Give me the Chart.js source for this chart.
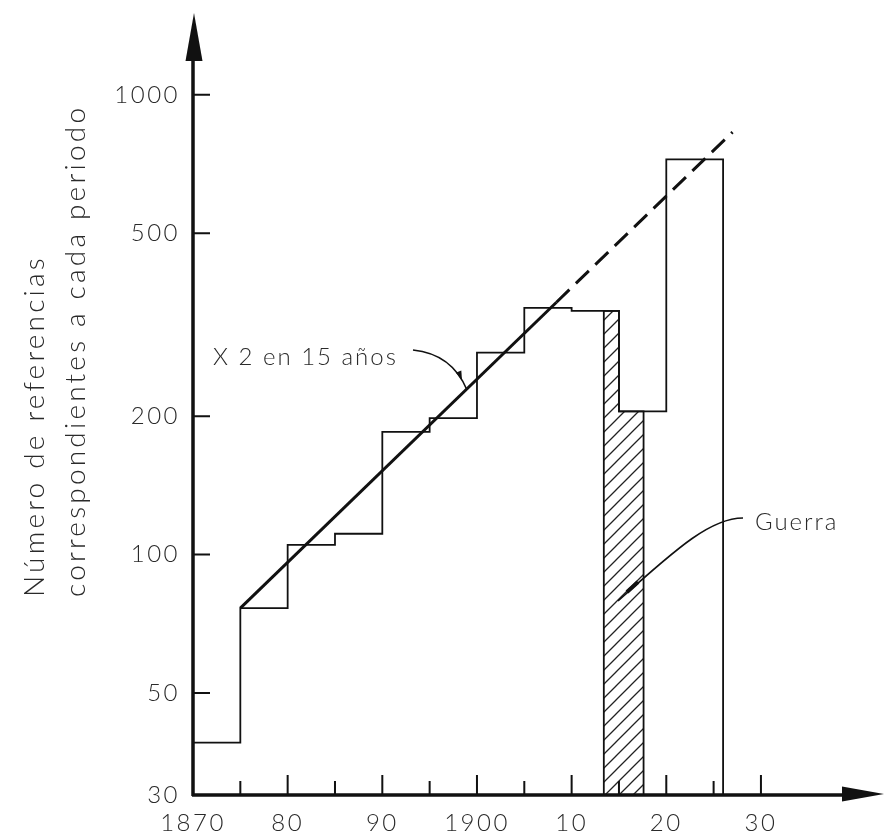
<!DOCTYPE html>
<html>
<head>
<meta charset="utf-8">
<script src="https://cdn.jsdelivr.net/npm/chart.js@4.4.1/dist/chart.umd.min.js"></script>
<style>
  html, body { margin: 0; padding: 0; background: #fff; }
  #wrap { width: 884px; height: 832px; position: relative; }
</style>
</head>
<body>
<div id="wrap"><canvas id="refChart"></canvas></div>
<script>
// histogram: left edge of each period and the count for it
const binEdges = [1870, 1875, 1880, 1885, 1890, 1895, 1900, 1905, 1910, 1915, 1920, 1926];
const binValues = [39, 76.5, 105, 111, 185, 198, 275, 344, 339, 205, 724];
// war years (hatched)
const warYears = [1913.4, 1913.4, 1915, 1917.6, 1917.6];
const warValues = [30, 339, 205, 205, 30];
// trend line, solid then dashed
const trendYears = [1875, 1908.4, 1927];
const trendValues = [76.5, 354, 830];

const yTicks = [30, 50, 100, 200, 500, 1000];
const xTickYears = [1870, 1880, 1890, 1900, 1910, 1920, 1930];
const xTickLabels = ["1870", "80", "90", "1900", "10", "20", "30"];
const xMinorYears = [1875, 1885, 1895, 1905, 1915, 1925];
const yTitleLines = ["Número de referencias", "correspondientes a cada periodo"];

const FONT = "Lato, 'Open Sans', sans-serif";
const TEXT = "#2a2a2a";

function hatchPattern() {
    const c = document.createElement("canvas");
    c.width = 14; c.height = 14;
    const g = c.getContext("2d");
    g.strokeStyle = "#222";
    g.lineWidth = 1.3;
    g.beginPath();
    g.moveTo(0, 14); g.lineTo(14, 0);
    g.moveTo(-2, 2); g.lineTo(2, -2);
    g.moveTo(12, 16); g.lineTo(16, 12);
    g.stroke();
    return g.createPattern(c, "repeat");
}

const histPoints = binValues.map((v, i) => ({ x: binEdges[i], y: v }));
histPoints.push({ x: binEdges[binEdges.length - 1], y: yTicks[0] });

const warPoints = warYears.map((yr, i) => ({ x: yr, y: warValues[i] }));
const trendPoints = trendYears.map((yr, i) => ({ x: yr, y: trendValues[i] }));

function arrowHead(ctx, x, y, ang, len, half) {
    ctx.save();
    ctx.translate(x, y);
    ctx.rotate(ang);
    ctx.beginPath();
    ctx.moveTo(0, 0);
    ctx.lineTo(-len, -half);
    ctx.lineTo(-len, half);
    ctx.closePath();
    ctx.fill();
    ctx.restore();
}

const decorPlugin = {
    id: "decor",
    beforeDraw(chart) {
        chart.ctx.letterSpacing = "2.5px";
    },
    afterDatasetsDraw(chart) {
        const ctx = chart.ctx;
        const xs = chart.scales.x, ys = chart.scales.y;
        const x0 = xs.getPixelForValue(xTickYears[0]);
        const y0 = ys.getPixelForValue(yTicks[0]);
        ctx.save();
        ctx.strokeStyle = "#111";
        ctx.fillStyle = "#111";

        // axes
        ctx.lineWidth = 3.5;
        ctx.beginPath();
        ctx.moveTo(x0, y0 + 1);
        ctx.lineTo(x0, 55);
        ctx.moveTo(x0 - 1, y0);
        ctx.lineTo(850, y0);
        ctx.stroke();
        arrowHead(ctx, x0 + 1, 13, -Math.PI / 2, 48, 8.5);
        arrowHead(ctx, 884, y0 - 1, 0, 42, 7.5);

        // tick marks
        ctx.lineWidth = 2;
        ctx.beginPath();
        yTicks.slice(1).forEach(v => {
            const py = ys.getPixelForValue(v);
            ctx.moveTo(x0, py); ctx.lineTo(x0 + 17, py);
        });
        xTickYears.slice(1).forEach(v => {
            const px = xs.getPixelForValue(v);
            ctx.moveTo(px, y0); ctx.lineTo(px, y0 - 20);
        });
        xMinorYears.forEach(v => {
            const px = xs.getPixelForValue(v);
            ctx.moveTo(px, y0); ctx.lineTo(px, y0 - 14);
        });
        ctx.stroke();

        // notes
        ctx.lineWidth = 1.6;
        ctx.beginPath();
        ctx.moveTo(413, 350);
        ctx.quadraticCurveTo(452, 354, 467, 390);
        ctx.stroke();
        arrowHead(ctx, 462, 380, Math.atan2(390 - 354, 467 - 452), 9, 3);

        ctx.beginPath();
        ctx.moveTo(743, 518);
        ctx.bezierCurveTo(712, 518, 680, 545, 618, 601);
        ctx.stroke();
        ctx.lineWidth = 4;
        ctx.beginPath();
        ctx.moveTo(627, 592); ctx.lineTo(638, 582);
        ctx.stroke();

        ctx.fillStyle = TEXT;
        ctx.font = "300 24px " + FONT;
        ctx.letterSpacing = "2px";
        ctx.textBaseline = "middle";
        ctx.textAlign = "left";
        ctx.fillText("X 2 en 15 años", 213, 357);
        ctx.fillText("Guerra", 755, 522);

        // y title, two lines rotated, starting at the bottom
        ctx.font = "300 28px " + FONT;
        ctx.letterSpacing = "3.2px";
        ctx.translate(0, 597);
        ctx.rotate(-Math.PI / 2);
        ctx.fillText(yTitleLines[0], 0, 35);
        ctx.fillText(yTitleLines[1], 0, 76);
        ctx.restore();
    }
};

Chart.defaults.font.family = FONT;
Chart.defaults.font.weight = 300;
Chart.defaults.color = TEXT;

new Chart(document.getElementById("refChart"), {
    type: "line",
    data: {
        datasets: [
            {
                data: histPoints,
                stepped: "before",
                borderColor: "#111",
                borderWidth: 1.8,
                pointRadius: 0,
                fill: false
            },
            {
                data: warPoints,
                stepped: "before",
                borderColor: "#111",
                borderWidth: 1.8,
                pointRadius: 0,
                fill: "start",
                backgroundColor: hatchPattern()
            },
            {
                data: trendPoints,
                borderColor: "#111",
                borderWidth: 3,
                pointRadius: 0,
                fill: false,
                segment: {
                    borderDash: c => c.p0DataIndex === 1 ? [18, 9] : undefined
                }
            }
        ]
    },
    options: {
        responsive: true,
        maintainAspectRatio: false,
        animation: false,
        layout: { padding: { top: 13, right: 0, left: 0, bottom: 0 } },
        plugins: {
            legend: { display: false },
            tooltip: { enabled: false }
        },
        scales: {
            x: {
                type: "linear",
                min: 1870,
                max: 1943,
                grid: { display: false, drawTicks: false },
                border: { display: false },
                afterBuildTicks: s => { s.ticks = xTickYears.map(v => ({ value: v })); },
                afterFit: s => { s.height = 37; },
                ticks: {
                    padding: 14,
                    autoSkip: false,
                    maxRotation: 0,
                    font: { size: 24 },
                    callback: (v, i) => xTickLabels[i]
                }
            },
            y: {
                type: "logarithmic",
                min: 30,
                max: 1402,
                grid: { display: false, drawTicks: false },
                border: { display: false },
                afterBuildTicks: s => { s.ticks = yTicks.map(v => ({ value: v })); },
                afterFit: s => { s.width = 193; },
                ticks: {
                    padding: 13,
                    font: { size: 24 },
                    callback: (v, i) => String(yTicks[i])
                }
            }
        }
    },
    plugins: [decorPlugin]
});
</script>
</body>
</html>
